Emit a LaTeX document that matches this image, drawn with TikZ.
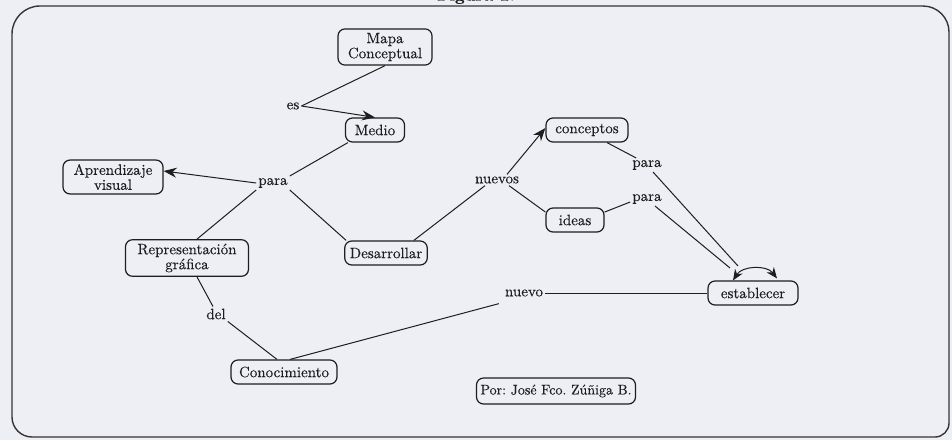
\documentclass[tikz,border=0pt]{standalone}
\usepackage{fontspec}
\setmainfont{lmroman10-regular.otf}[FakeBold=0.25, BoldFont=lmroman10-bold.otf]
\usetikzlibrary{arrows.meta,calc}
\definecolor{bg}{HTML}{EDEFF4}
\definecolor{ink}{HTML}{1E1E1E}
\frenchspacing
\begin{document}
\begin{tikzpicture}[x=1pt,y=-1pt,
  txt/.style={font=\fontsize{15}{15}\selectfont, text=ink},
  concept/.style={txt, draw=ink, line width=1.2pt, rounded corners=7pt,
    inner xsep=5pt, inner ysep=4pt, align=center, minimum height=24pt},
  linklabel/.style={txt, inner sep=2pt},
  link/.style={draw=ink, line width=1pt},
  arr/.style={link, -{Stealth[length=13pt,width=10pt]}},
  dblarr/.style={link, {Stealth[length=11pt,width=9pt]}-{Stealth[length=11pt,width=9pt]}},
]
\fill[bg] (0,0) rectangle (952,440);
\useasboundingbox (0,0) rectangle (952,440);
% caption (cut by the top edge)
\node[font=\bfseries\fontsize{17}{17}\selectfont, text=ink, anchor=base] (fig) at (476,0.5) {Figura 1.};
% frame
\draw[draw=ink!90, line width=1.4pt]
  (12,200) [rounded corners=28pt] -- (12,6) [rounded corners=26pt] -- (949,6)
  [rounded corners=14pt] -- (949,437) [rounded corners=20pt] -- (12,437) [sharp corners] -- cycle;

% concepts
\node[concept, minimum width=94pt] (mapa) at (385,47) {Mapa\\Conceptual};
\node[concept, minimum width=59pt] (medio) at (375,130) {Medio};
\node[concept, minimum width=100pt] (aprend) at (113,177) {Aprendizaje\\visual};
\node[concept, minimum width=123pt] (repr) at (187,258) {Representación\\gráfica};
\node[concept, minimum width=82pt] (desarr) at (386,253) {Desarrollar};
\node[concept, minimum width=106pt] (conoc) at (284,372) {Conocimiento};
\node[concept, minimum width=82pt] (concep) at (587,130) {conceptos};
\node[concept, minimum width=58pt] (ideas) at (575,220) {ideas};
\node[concept, minimum width=90pt] (estab) at (753,293) {establecer};
\node[concept, minimum width=158pt, minimum height=26pt, inner xsep=4pt,
  font=\fontsize{14}{15}\selectfont] (por) at (556,391) {Por: José Fco. Zúñiga B.};

% linking phrases
\node[linklabel] (es) at (293,106) {es};
\node[linklabel] (paraA) at (273,183) {para};
\node[linklabel] (del) at (216,314) {del};
\node[linklabel] (nuevos) at (497,180) {nuevos};
\node[linklabel] (paraB) at (647,165) {para};
\node[linklabel] (paraC) at (647,199) {para};
\node[linklabel] (nuevo) at (524,293) {nuevo};

\coordinate (tipB) at (738,266);
\coordinate (tipC) at (730,268);

% connectors
\draw[link] (mapa.south) -- (es.east);
\draw[arr] (es.east) -- (medio.north);
\draw[link] ([xshift=3pt]medio.south west) -- (paraA.north east);
\draw[arr] (paraA.west) -- ([yshift=6pt]aprend.east);
\draw[link] (paraA.south west) -- ([xshift=10pt]repr.north);
\draw[link] (paraA.south east) -- ([xshift=2pt]desarr.north west);
\draw[link] ([xshift=-14pt]desarr.north east) -- ([xshift=-12pt]nuevos.south);
\draw[arr] ([xshift=10pt]nuevos.north) -- ([yshift=2pt]concep.west);
\draw[link] ([xshift=12pt]nuevos.south) -- (ideas.165);
\draw[link] ([xshift=20pt]concep.south) -- ([xshift=6pt]paraB.north west);
\draw[link] (ideas.15) -- ([yshift=-3pt]paraC.west);
\draw[link] ([xshift=6pt]paraB.south) -- (tipB);
\draw[link] ([xshift=8pt]paraC.south) -- (tipC);
\draw[dblarr] ([xshift=-20pt]estab.north) to[bend left=55] ([xshift=24pt,yshift=2pt]estab.north);
\draw[link] (nuevo.east) -- (estab.west);
\draw[link] ([xshift=6pt]conoc.north) -- ([xshift=-4pt,yshift=-5pt]nuevo.south west);
\draw[link] ([xshift=10pt]repr.south) -- ([xshift=-3pt]del.north);
\draw[link] (del.south east) -- ([xshift=-7pt]conoc.north);
\end{tikzpicture}
\end{document}
